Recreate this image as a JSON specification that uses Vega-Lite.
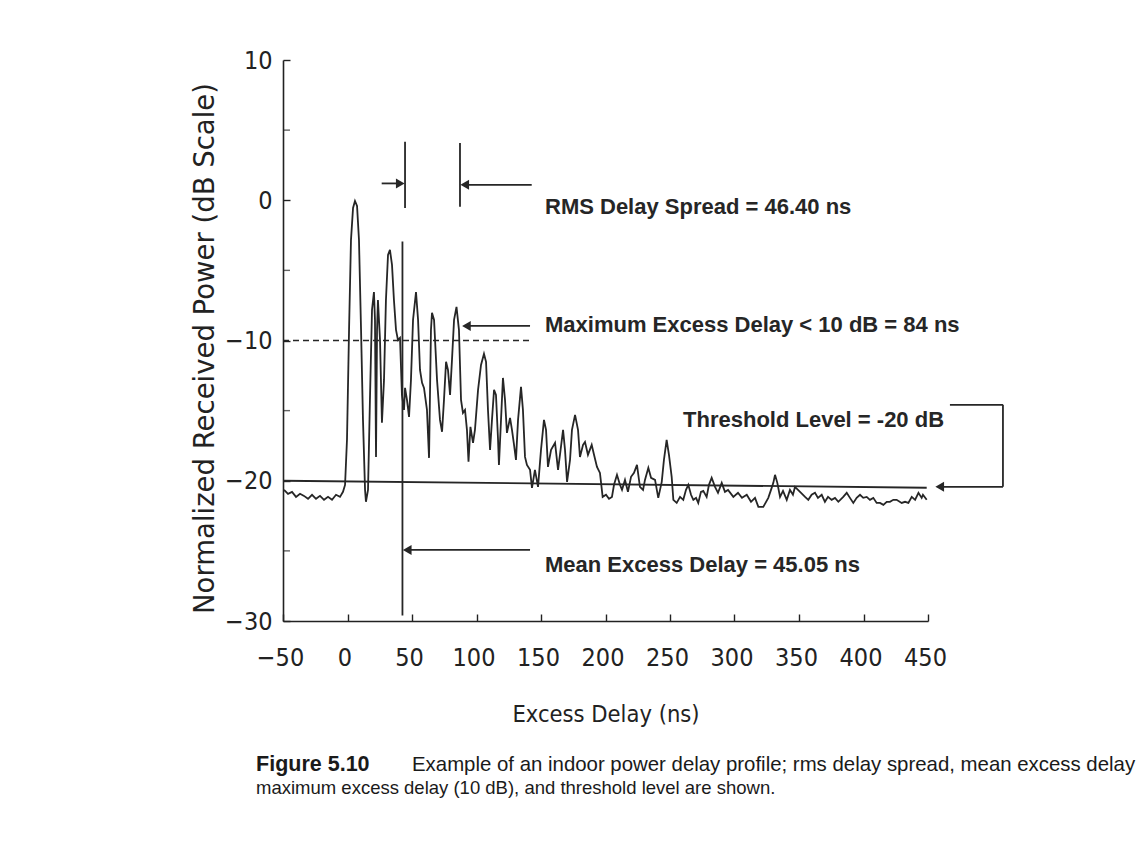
{
  "$schema": "https://vega.github.io/schema/vega-lite/v6.json",
  "autosize": "none",
  "width": 645,
  "height": 561,
  "padding": {"left": 283, "top": 60, "right": 210, "bottom": 221},
  "background": "white",
  "config": {
    "view": {"stroke": null},
    "axis": {"grid": false, "domainColor": "#222", "domainWidth": 1.6, "tickColor": "#222", "tickWidth": 1.4, "labelColor": "#222", "titleColor": "#222", "labelFont": "Liberation Sans Narrow, DejaVu Sans Condensed, sans-serif", "titleFont": "Liberation Sans Narrow, DejaVu Sans Condensed, sans-serif", "labelFontSize": 25, "titleFontWeight": "normal"}
  },
  "datasets": {
    "curve": [
      {"t": -49.2, "p": -20.65}, {"t": -46.1, "p": -20.93}, {"t": -43.0, "p": -20.79}, {"t": -39.9, "p": -21.15}, {"t": -36.8, "p": -20.93}, {"t": -33.7, "p": -21.08}, {"t": -30.6, "p": -21.29}, {"t": -27.5, "p": -21.0}, {"t": -24.4, "p": -21.29}, {"t": -21.3, "p": -21.08}, {"t": -18.2, "p": -21.36}, {"t": -15.1, "p": -21.15}, {"t": -12.0, "p": -21.36}, {"t": -8.9, "p": -21.0}, {"t": -5.8, "p": -21.15}, {"t": -3.5, "p": -20.79}, {"t": -1.9, "p": -20.3}, {"t": -0.4, "p": -17.08}, {"t": 1.2, "p": -9.24}, {"t": 2.7, "p": -2.83}, {"t": 4.3, "p": -0.55}, {"t": 5.8, "p": -0.05}, {"t": 7.4, "p": -0.41}, {"t": 8.9, "p": -2.83}, {"t": 10.5, "p": -9.24}, {"t": 12.0, "p": -15.66}, {"t": 13.6, "p": -20.65}, {"t": 14.3, "p": -21.5}, {"t": 15.9, "p": -20.65}, {"t": 17.4, "p": -14.23}, {"t": 19.0, "p": -7.82}, {"t": 20.5, "p": -6.54}, {"t": 21.3, "p": -8.53}, {"t": 22.1, "p": -18.3}, {"t": 22.9, "p": -9.24}, {"t": 23.6, "p": -7.11}, {"t": 25.2, "p": -9.96}, {"t": 26.7, "p": -15.87}, {"t": 28.3, "p": -12.81}, {"t": 29.8, "p": -7.11}, {"t": 31.4, "p": -3.9}, {"t": 32.9, "p": -3.54}, {"t": 34.5, "p": -4.61}, {"t": 36.0, "p": -7.11}, {"t": 37.6, "p": -9.24}, {"t": 39.1, "p": -9.96}, {"t": 40.7, "p": -9.81}, {"t": 42.2, "p": -13.88}, {"t": 43.8, "p": -14.95}, {"t": 44.6, "p": -13.38}, {"t": 46.1, "p": -14.23}, {"t": 47.7, "p": -15.45}, {"t": 49.2, "p": -12.81}, {"t": 50.8, "p": -8.53}, {"t": 53.1, "p": -6.54}, {"t": 54.7, "p": -8.53}, {"t": 56.2, "p": -12.1}, {"t": 57.8, "p": -13.02}, {"t": 59.3, "p": -13.38}, {"t": 61.6, "p": -14.95}, {"t": 63.2, "p": -18.37}, {"t": 64.7, "p": -9.24}, {"t": 65.5, "p": -8.03}, {"t": 67.1, "p": -8.53}, {"t": 69.4, "p": -12.81}, {"t": 71.7, "p": -15.66}, {"t": 73.3, "p": -16.51}, {"t": 74.8, "p": -14.23}, {"t": 76.4, "p": -11.52}, {"t": 77.9, "p": -12.1}, {"t": 79.5, "p": -13.88}, {"t": 81.0, "p": -11.38}, {"t": 82.6, "p": -8.53}, {"t": 84.5, "p": -7.6}, {"t": 86.4, "p": -9.24}, {"t": 88.0, "p": -14.23}, {"t": 89.5, "p": -15.16}, {"t": 91.1, "p": -14.95}, {"t": 92.6, "p": -16.37}, {"t": 93.8, "p": -18.65}, {"t": 95.3, "p": -16.16}, {"t": 97.3, "p": -17.3}, {"t": 98.8, "p": -16.37}, {"t": 101.2, "p": -13.52}, {"t": 103.5, "p": -11.74}, {"t": 105.8, "p": -10.95}, {"t": 107.4, "p": -11.52}, {"t": 108.9, "p": -14.95}, {"t": 110.5, "p": -17.8}, {"t": 112.0, "p": -15.66}, {"t": 113.6, "p": -13.52}, {"t": 115.1, "p": -13.88}, {"t": 116.7, "p": -17.08}, {"t": 117.4, "p": -18.87}, {"t": 119.0, "p": -15.66}, {"t": 120.5, "p": -12.67}, {"t": 122.1, "p": -14.23}, {"t": 123.6, "p": -16.59}, {"t": 126.0, "p": -15.52}, {"t": 127.5, "p": -16.37}, {"t": 129.1, "p": -17.44}, {"t": 130.6, "p": -18.51}, {"t": 132.2, "p": -15.66}, {"t": 134.5, "p": -13.31}, {"t": 136.0, "p": -14.95}, {"t": 137.6, "p": -18.3}, {"t": 139.1, "p": -18.87}, {"t": 141.5, "p": -19.22}, {"t": 143.0, "p": -20.51}, {"t": 145.3, "p": -19.22}, {"t": 147.7, "p": -20.44}, {"t": 150.0, "p": -17.8}, {"t": 152.3, "p": -15.66}, {"t": 153.9, "p": -16.37}, {"t": 155.4, "p": -19.01}, {"t": 157.8, "p": -17.8}, {"t": 160.9, "p": -17.3}, {"t": 163.2, "p": -19.22}, {"t": 164.7, "p": -18.15}, {"t": 167.1, "p": -16.37}, {"t": 168.6, "p": -17.8}, {"t": 170.2, "p": -20.08}, {"t": 172.5, "p": -18.51}, {"t": 174.0, "p": -16.37}, {"t": 176.4, "p": -15.3}, {"t": 178.7, "p": -16.37}, {"t": 180.2, "p": -18.3}, {"t": 182.6, "p": -17.44}, {"t": 184.1, "p": -17.23}, {"t": 186.4, "p": -18.15}, {"t": 189.3, "p": -17.44}, {"t": 191.1, "p": -18.15}, {"t": 193.4, "p": -19.01}, {"t": 195.7, "p": -19.44}, {"t": 197.8, "p": -21.15}, {"t": 200.4, "p": -21.0}, {"t": 202.7, "p": -21.29}, {"t": 205.0, "p": -21.15}, {"t": 206.6, "p": -20.29}, {"t": 208.9, "p": -19.58}, {"t": 211.2, "p": -20.29}, {"t": 212.8, "p": -20.65}, {"t": 215.1, "p": -19.94}, {"t": 217.4, "p": -20.79}, {"t": 219.8, "p": -19.72}, {"t": 222.1, "p": -19.44}, {"t": 224.4, "p": -18.87}, {"t": 226.7, "p": -20.44}, {"t": 229.1, "p": -20.65}, {"t": 230.6, "p": -19.94}, {"t": 233.2, "p": -19.08}, {"t": 235.3, "p": -19.79}, {"t": 238.4, "p": -19.94}, {"t": 240.9, "p": -21.22}, {"t": 243.6, "p": -20.08}, {"t": 245.3, "p": -18.51}, {"t": 247.4, "p": -17.08}, {"t": 249.2, "p": -18.15}, {"t": 251.3, "p": -19.72}, {"t": 252.6, "p": -21.36}, {"t": 255.2, "p": -21.58}, {"t": 257.8, "p": -21.15}, {"t": 260.3, "p": -21.36}, {"t": 262.4, "p": -20.65}, {"t": 264.2, "p": -20.29}, {"t": 266.3, "p": -21.0}, {"t": 268.1, "p": -21.36}, {"t": 270.2, "p": -21.22}, {"t": 271.9, "p": -21.58}, {"t": 274.0, "p": -20.79}, {"t": 275.8, "p": -20.72}, {"t": 278.4, "p": -21.15}, {"t": 280.2, "p": -20.29}, {"t": 282.3, "p": -19.79}, {"t": 284.9, "p": -20.44}, {"t": 287.2, "p": -20.86}, {"t": 290.1, "p": -20.15}, {"t": 292.6, "p": -20.79}, {"t": 295.0, "p": -20.65}, {"t": 299.1, "p": -21.15}, {"t": 302.7, "p": -20.86}, {"t": 305.8, "p": -21.22}, {"t": 309.5, "p": -21.0}, {"t": 312.8, "p": -21.5}, {"t": 315.9, "p": -21.22}, {"t": 318.5, "p": -21.86}, {"t": 322.3, "p": -21.86}, {"t": 326.2, "p": -21.22}, {"t": 328.3, "p": -20.65}, {"t": 330.1, "p": -20.15}, {"t": 331.4, "p": -19.58}, {"t": 333.2, "p": -20.15}, {"t": 335.3, "p": -21.15}, {"t": 337.6, "p": -20.72}, {"t": 340.5, "p": -21.36}, {"t": 343.0, "p": -20.65}, {"t": 345.3, "p": -21.0}, {"t": 346.9, "p": -20.44}, {"t": 350.8, "p": -20.79}, {"t": 354.7, "p": -21.15}, {"t": 357.2, "p": -21.36}, {"t": 359.8, "p": -21.0}, {"t": 362.4, "p": -20.86}, {"t": 364.7, "p": -21.22}, {"t": 367.6, "p": -21.0}, {"t": 370.1, "p": -21.5}, {"t": 372.5, "p": -21.15}, {"t": 375.3, "p": -21.36}, {"t": 377.9, "p": -21.22}, {"t": 380.5, "p": -21.5}, {"t": 384.3, "p": -21.15}, {"t": 387.0, "p": -20.86}, {"t": 389.5, "p": -21.22}, {"t": 392.1, "p": -21.58}, {"t": 394.7, "p": -21.22}, {"t": 397.3, "p": -21.0}, {"t": 399.8, "p": -21.22}, {"t": 402.5, "p": -21.15}, {"t": 405.0, "p": -21.36}, {"t": 407.6, "p": -21.22}, {"t": 410.2, "p": -21.58}, {"t": 412.8, "p": -21.58}, {"t": 415.4, "p": -21.72}, {"t": 418.0, "p": -21.5}, {"t": 420.5, "p": -21.5}, {"t": 423.1, "p": -21.36}, {"t": 425.7, "p": -21.36}, {"t": 429.6, "p": -21.58}, {"t": 432.2, "p": -21.5}, {"t": 434.8, "p": -21.58}, {"t": 437.4, "p": -21.15}, {"t": 440.0, "p": -21.36}, {"t": 442.6, "p": -20.86}, {"t": 445.1, "p": -21.22}, {"t": 446.1, "p": -21.0}, {"t": 449.0, "p": -21.36}
    ],
    "minorTicks": [{"x": -47.3, "v": -25}, {"x": -47.3, "v": -15}, {"x": -47.3, "v": -5}, {"x": -47.3, "v": 5}],
    "segments": [
      {"x": 42.6, "x2": 42.6, "y": -2.95, "y2": -29.6},
      {"x": 44.6, "x2": 44.6, "y": 4.18, "y2": -0.55},
      {"x": 87.2, "x2": 87.2, "y": 4.08, "y2": -0.46},
      {"x": 26.5, "x2": 42.0, "y": 1.2, "y2": 1.2},
      {"x": 90.0, "x2": 142.8, "y": 1.1, "y2": 1.1},
      {"x": 91.0, "x2": 141.5, "y": -8.96, "y2": -8.96},
      {"x": 45.0, "x2": 141.5, "y": -24.93, "y2": -24.93},
      {"x": 467.0, "x2": 508.1, "y": -14.59, "y2": -14.59},
      {"x": 508.1, "x2": 508.1, "y": -14.59, "y2": -20.43},
      {"x": 508.1, "x2": 458.0, "y": -20.43, "y2": -20.43},
      {"x": -50, "x2": 449, "y": -20.0, "y2": -20.5}
    ],
    "dashed": [{"x": -50, "x2": 143.8, "y": -10, "y2": -10}],
    "heads": [
      {"x": 40.9, "y": 1.2, "dir": "triangle-right"},
      {"x": 90.9, "y": 1.1, "dir": "triangle-left"},
      {"x": 92.2, "y": -8.96, "dir": "triangle-left"},
      {"x": 46.3, "y": -24.93, "dir": "triangle-left"},
      {"x": 459.1, "y": -20.43, "dir": "triangle-left"}
    ],
    "notes": [
      {"x": 153.1, "y": -0.48, "text": "RMS Delay Spread = 46.40 ns"},
      {"x": 153.1, "y": -8.89, "text": "Maximum Excess Delay < 10 dB = 84 ns"},
      {"x": 260.1, "y": -15.66, "text": "Threshold Level = -20 dB"},
      {"x": 153.1, "y": -26.0, "text": "Mean Excess Delay = 45.05 ns"}
    ],
    "captionBold": [{"x": -70.9, "y": -40.25, "text": "Figure 5.10"}],
    "caption": [
      {"x": 50.0, "y": -40.25, "size": 20.4, "text": "Example of an indoor power delay profile; rms delay spread, mean excess delay"},
      {"x": -70.9, "y": -41.89, "size": 18.5, "text": "maximum excess delay (10 dB), and threshold level are shown."}
    ]
  },
  "layer": [
    {
      "data": {"name": "curve"},
      "mark": {"type": "line", "color": "#262626", "strokeWidth": 1.8, "interpolate": "linear"},
      "encoding": {
        "x": {"field": "t", "type": "quantitative", "scale": {"domain": [-50, 450], "nice": false, "zero": false},
          "axis": {"values": [-50, 0, 50, 100, 150, 200, 250, 300, 350, 400, 450], "tickSize": -7, "labelPadding": 31, "labelOffset": -3, "title": "Excess Delay (ns)", "titleFontSize": 23.5, "titleY": 93, "titleBaseline": "middle", "labelFlush": false}},
        "y": {"field": "p", "type": "quantitative", "scale": {"domain": [-30, 10], "nice": false, "zero": false},
          "axis": {"values": [-30, -20, -10, 0, 10], "tickSize": -7, "labelPadding": 18, "title": "Normalized Received Power (dB Scale)", "titleFont": "DejaVu Sans", "titleFontSize": 27.5, "titleX": -78, "titleY": 288, "titleBaseline": "middle", "titleAlign": "center", "labelFlush": false}}
      }
    },
    {
      "data": {"name": "minorTicks"},
      "mark": {"type": "tick", "orient": "horizontal", "color": "#222", "size": 7, "thickness": 1.4},
      "encoding": {
        "x": {"field": "x", "type": "quantitative", "scale": {"domain": [-50, 450], "nice": false, "zero": false}},
        "y": {"field": "v", "type": "quantitative", "scale": {"domain": [-30, 10], "nice": false, "zero": false}}
      }
    },
    {
      "data": {"name": "segments"},
      "mark": {"type": "rule", "color": "#262626", "strokeWidth": 1.8},
      "encoding": {
        "x": {"field": "x", "type": "quantitative", "scale": {"domain": [-50, 450], "nice": false, "zero": false}},
        "x2": {"field": "x2"},
        "y": {"field": "y", "type": "quantitative", "scale": {"domain": [-30, 10], "nice": false, "zero": false}},
        "y2": {"field": "y2"}
      }
    },
    {
      "data": {"name": "dashed"},
      "mark": {"type": "rule", "color": "#262626", "strokeWidth": 1.6, "strokeDash": [6, 4]},
      "encoding": {
        "x": {"field": "x", "type": "quantitative", "scale": {"domain": [-50, 450], "nice": false, "zero": false}},
        "x2": {"field": "x2"},
        "y": {"field": "y", "type": "quantitative", "scale": {"domain": [-30, 10], "nice": false, "zero": false}},
        "y2": {"field": "y2"}
      }
    },
    {
      "data": {"name": "heads"},
      "mark": {"type": "point", "filled": true, "color": "#262626", "size": 100, "opacity": 1},
      "encoding": {
        "x": {"field": "x", "type": "quantitative", "scale": {"domain": [-50, 450], "nice": false, "zero": false}},
        "y": {"field": "y", "type": "quantitative", "scale": {"domain": [-30, 10], "nice": false, "zero": false}},
        "shape": {"field": "dir", "type": "nominal", "scale": null}
      }
    },
    {
      "data": {"name": "notes"},
      "mark": {"type": "text", "align": "left", "baseline": "middle", "font": "Liberation Sans", "fontWeight": "bold", "fontSize": 22, "color": "#262626"},
      "encoding": {
        "x": {"field": "x", "type": "quantitative", "scale": {"domain": [-50, 450], "nice": false, "zero": false}},
        "y": {"field": "y", "type": "quantitative", "scale": {"domain": [-30, 10], "nice": false, "zero": false}},
        "text": {"field": "text"}
      }
    },
    {
      "data": {"name": "captionBold"},
      "mark": {"type": "text", "align": "left", "baseline": "middle", "font": "Liberation Sans", "fontWeight": "bold", "fontSize": 21.5, "color": "#1a1a1a"},
      "encoding": {
        "x": {"field": "x", "type": "quantitative", "scale": {"domain": [-50, 450], "nice": false, "zero": false}},
        "y": {"field": "y", "type": "quantitative", "scale": {"domain": [-30, 10], "nice": false, "zero": false}},
        "text": {"field": "text"}
      }
    },
    {
      "data": {"name": "caption"},
      "mark": {"type": "text", "align": "left", "baseline": "middle", "font": "Liberation Sans", "color": "#1a1a1a"},
      "encoding": {
        "x": {"field": "x", "type": "quantitative", "scale": {"domain": [-50, 450], "nice": false, "zero": false}},
        "y": {"field": "y", "type": "quantitative", "scale": {"domain": [-30, 10], "nice": false, "zero": false}},
        "size": {"field": "size", "type": "quantitative", "scale": null},
        "text": {"field": "text"}
      }
    }
  ]
}
